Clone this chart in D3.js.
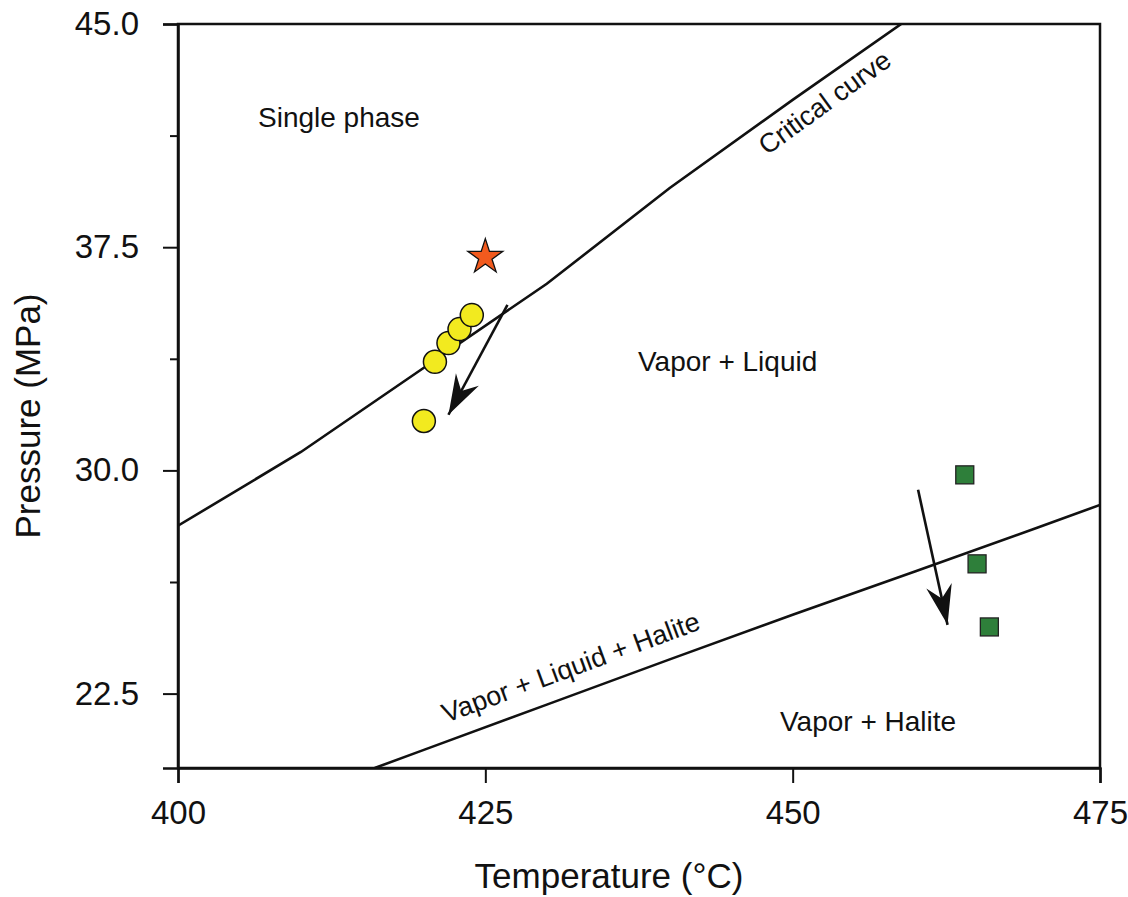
<!DOCTYPE html>
<html>
<head>
<meta charset="utf-8">
<script src="https://cdn.jsdelivr.net/npm/d3@7"></script>
<style>
  body { margin: 0; background: #fff; }
  svg text { font-family: "Liberation Sans", Arial, Helvetica, sans-serif; fill: #111; }
</style>
</head>
<body>
<svg id="chart" width="1128" height="897"></svg>
<script>
// Critical curve (T °C, P MPa)
const criticalT = [400, 410, 420, 430, 440, 450, 460];
const criticalP = [28.14, 30.62, 33.45, 36.27, 39.49, 42.45, 45.34];

// Vapor + Liquid + Halite boundary
const haliteT = [416, 420, 430, 440, 450, 460, 470, 475];
const haliteP = [20.0, 20.61, 22.13, 23.65, 25.15, 26.61, 28.09, 28.84];

// yellow circles
const circleT = [420, 420.9, 422, 422.9, 423.9];
const circleP = [31.66, 33.65, 34.28, 34.75, 35.22];

// orange star
const starT = [425];
const starP = [37.17];

// green squares
const squareT = [464, 465, 466];
const squareP = [29.85, 26.86, 24.74];

// arrows [t0, p0, t1, p1]
const arrows = [
    [426.8, 35.56, 422.0, 31.87],
    [460.2, 29.35, 462.6, 24.81]
];

const xTicks = [400, 425, 450, 475];
const yTicks = [22.5, 30.0, 37.5, 45.0];
const yMinorTicks = [26.25, 33.75, 41.25];

const margin = { top: 24, right: 28, bottom: 129, left: 178 };
const width = 1128 - margin.left - margin.right;
const height = 897 - margin.top - margin.bottom;

const svg = d3.select("#chart");
const g = svg.append("g").attr("transform", `translate(${margin.left},${margin.top})`);

const x = d3.scaleLinear().domain([400, 475]).range([0, width]);
const y = d3.scaleLinear().domain([20, 45]).range([height, 0]);

svg.append("defs").append("clipPath").attr("id", "plot-clip")
    .append("rect").attr("width", width).attr("height", height);

svg.select("defs").append("marker")
    .attr("id", "head")
    .attr("viewBox", "-41 -14 43 28")
    .attr("refX", 0).attr("refY", 0)
    .attr("markerUnits", "userSpaceOnUse")
    .attr("markerWidth", 43).attr("markerHeight", 28)
    .attr("orient", "auto")
    .append("path")
    .attr("d", "M0,0 L-40,-13 L-27,0 L-40,13 Z")
    .attr("fill", "#111");

// frame
g.append("rect")
    .attr("width", width).attr("height", height)
    .attr("fill", "none").attr("stroke", "#111").attr("stroke-width", 2.5);

// axes
const xAxis = g.append("g")
    .attr("transform", `translate(0,${height})`)
    .call(d3.axisBottom(x).tickValues(xTicks).tickSize(15).tickPadding(18).tickFormat(d3.format("d")));

const yAxis = g.append("g")
    .call(d3.axisLeft(y).tickValues(yTicks).tickSize(15).tickPadding(24).tickFormat(d3.format(".1f")));

g.append("g")
    .call(d3.axisLeft(y).tickValues(yMinorTicks).tickSize(8).tickFormat(""))
    .select(".domain").remove();

[xAxis, yAxis].forEach(a => {
    a.select(".domain").attr("stroke", "#111").attr("stroke-width", 2.5);
    a.selectAll(".tick text")
        .style("font-size", "33px")
        .style("font-family", "'Liberation Sans', Arial, sans-serif")
        .attr("fill", "#111");
});
g.selectAll(".tick line").attr("stroke", "#111").attr("stroke-width", 2);

// axis titles
svg.append("text")
    .attr("x", 609).attr("y", 888)
    .attr("text-anchor", "middle")
    .style("font-size", "35px")
    .text("Temperature (°C)");

svg.append("text")
    .attr("transform", "translate(40,416) rotate(-90)")
    .attr("text-anchor", "middle")
    .style("font-size", "35px")
    .text("Pressure (MPa)");

// boundary lines
const line = d3.line().x(d => x(d[0])).y(d => y(d[1]));
const lines = g.append("g").attr("clip-path", "url(#plot-clip)");

lines.append("path")
    .datum(criticalT.map((t, i) => [t, criticalP[i]]))
    .attr("d", line)
    .attr("fill", "none").attr("stroke", "#111").attr("stroke-width", 2.6);

lines.append("path")
    .datum(haliteT.map((t, i) => [t, haliteP[i]]))
    .attr("d", line)
    .attr("fill", "none").attr("stroke", "#111").attr("stroke-width", 2.6);

// arrows
g.selectAll(".arrow")
    .data(arrows)
    .enter().append("line")
    .attr("class", "arrow")
    .attr("x1", d => x(d[0])).attr("y1", d => y(d[1]))
    .attr("x2", d => x(d[2])).attr("y2", d => y(d[3]))
    .attr("stroke", "#111").attr("stroke-width", 2.6)
    .attr("marker-end", "url(#head)");

// region labels
const labels = [
    { text: "Single phase", x: 258, y: 127, angle: 0, anchor: "start", size: 28 },
    { text: "Vapor + Liquid", x: 638, y: 371, angle: 0, anchor: "start", size: 28 },
    { text: "Vapor + Halite", x: 780, y: 731, angle: 0, anchor: "start", size: 28 },
    { text: "Critical curve", x: 830, y: 110, angle: -36, anchor: "middle", size: 27 },
    { text: "Vapor + Liquid + Halite", x: 574, y: 676, angle: -20.2, anchor: "middle", size: 27 }
];
svg.selectAll(".region")
    .data(labels)
    .enter().append("text")
    .attr("class", "region")
    .attr("transform", d => `translate(${d.x},${d.y}) rotate(${d.angle})`)
    .attr("text-anchor", d => d.anchor)
    .style("font-size", d => d.size + "px")
    .text(d => d.text);

// circles
g.selectAll(".pt")
    .data(circleT.map((t, i) => [t, circleP[i]]))
    .enter().append("circle")
    .attr("class", "pt")
    .attr("cx", d => x(d[0])).attr("cy", d => y(d[1]))
    .attr("r", 11.5)
    .attr("fill", "#f2ea1f").attr("stroke", "#111").attr("stroke-width", 1.5);

// star
g.selectAll(".star")
    .data(starT.map((t, i) => [t, starP[i]]))
    .enter().append("path")
    .attr("class", "star")
    .attr("transform", d => `translate(${x(d[0])},${y(d[1])})`)
    .attr("d", d3.symbol().type(d3.symbolStar).size(380))
    .attr("fill", "#f25a1e").attr("stroke", "#111").attr("stroke-width", 1.3);

// squares
g.selectAll(".sq")
    .data(squareT.map((t, i) => [t, squareP[i]]))
    .enter().append("rect")
    .attr("class", "sq")
    .attr("x", d => x(d[0]) - 9).attr("y", d => y(d[1]) - 9)
    .attr("width", 18).attr("height", 18)
    .attr("fill", "#2e7f3a").attr("stroke", "#222").attr("stroke-width", 1.3);
</script>
</body>
</html>
